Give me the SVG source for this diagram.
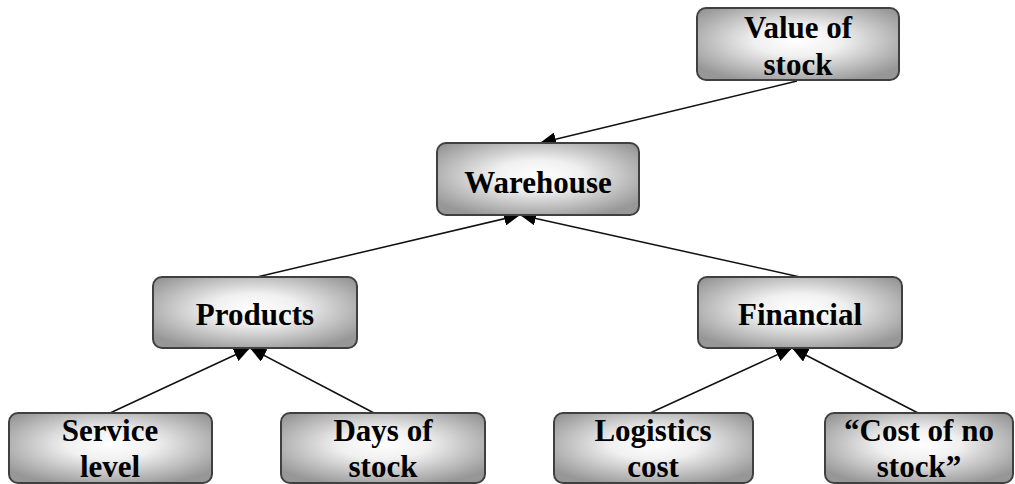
<svg xmlns="http://www.w3.org/2000/svg" width="1015" height="484" viewBox="0 0 1015 484">
  <defs>
    <radialGradient id="boxFill" cx="50%" cy="45%" r="62%">
      <stop offset="0" stop-color="#ffffff"/>
      <stop offset="0.35" stop-color="#f0f0f0"/>
      <stop offset="1" stop-color="#979797"/>
    </radialGradient>
    <marker id="arrow" markerUnits="userSpaceOnUse" markerWidth="17" markerHeight="14" refX="16" refY="7" orient="auto" viewBox="0 0 17 14">
      <path d="M0,0 L16,7 L0,14 z" fill="#000"/>
    </marker>
  </defs>
  <style>
    .box { fill: url(#boxFill); stroke: #404040; stroke-width: 2; }
    .label { font-family: "Liberation Serif", "Times New Roman", serif; font-weight: bold; font-size: 31px; fill: #000; text-anchor: middle; }
    .link { stroke: #111; stroke-width: 1.5; fill: none; marker-end: url(#arrow); }
  </style>
  <rect width="1015" height="484" fill="#fff"/>

  <g id="connectors">
    <line class="link" x1="797" y1="81" x2="540" y2="143"/>
    <line class="link" x1="257" y1="277" x2="520" y2="215"/>
    <line class="link" x1="800" y1="277" x2="520" y2="215"/>
    <line class="link" x1="110" y1="413" x2="250" y2="348"/>
    <line class="link" x1="374" y1="413" x2="250" y2="348"/>
    <line class="link" x1="650" y1="413" x2="792" y2="348"/>
    <line class="link" x1="918" y1="413" x2="792" y2="348"/>
  </g>

  <g id="value-of-stock">
    <rect class="box" x="697" y="8" width="202" height="72" rx="9"/>
    <text class="label" x="798" y="38">Value of</text>
    <text class="label" x="798" y="75">stock</text>
  </g>

  <g id="warehouse">
    <rect class="box" x="437" y="143" width="202" height="72" rx="9"/>
    <text class="label" x="538" y="193">Warehouse</text>
  </g>

  <g id="products">
    <rect class="box" x="153" y="277" width="204" height="71" rx="9"/>
    <text class="label" x="255" y="325">Products</text>
  </g>

  <g id="financial">
    <rect class="box" x="698" y="277" width="204" height="71" rx="9"/>
    <text class="label" x="800" y="325">Financial</text>
  </g>

  <g id="service-level">
    <rect class="box" x="9" y="413" width="203" height="70" rx="9"/>
    <text class="label" x="110" y="441">Service</text>
    <text class="label" x="110" y="477">level</text>
  </g>

  <g id="days-of-stock">
    <rect class="box" x="281" y="413" width="204" height="70" rx="9"/>
    <text class="label" x="383" y="441">Days of</text>
    <text class="label" x="383" y="477">stock</text>
  </g>

  <g id="logistics-cost">
    <rect class="box" x="554" y="413" width="199" height="70" rx="9"/>
    <text class="label" x="653" y="441">Logistics</text>
    <text class="label" x="653" y="477">cost</text>
  </g>

  <g id="cost-of-no-stock">
    <rect class="box" x="825" y="413" width="188" height="70" rx="9"/>
    <text class="label" x="919" y="441">“Cost of no</text>
    <text class="label" x="919" y="477">stock”</text>
  </g>
</svg>
